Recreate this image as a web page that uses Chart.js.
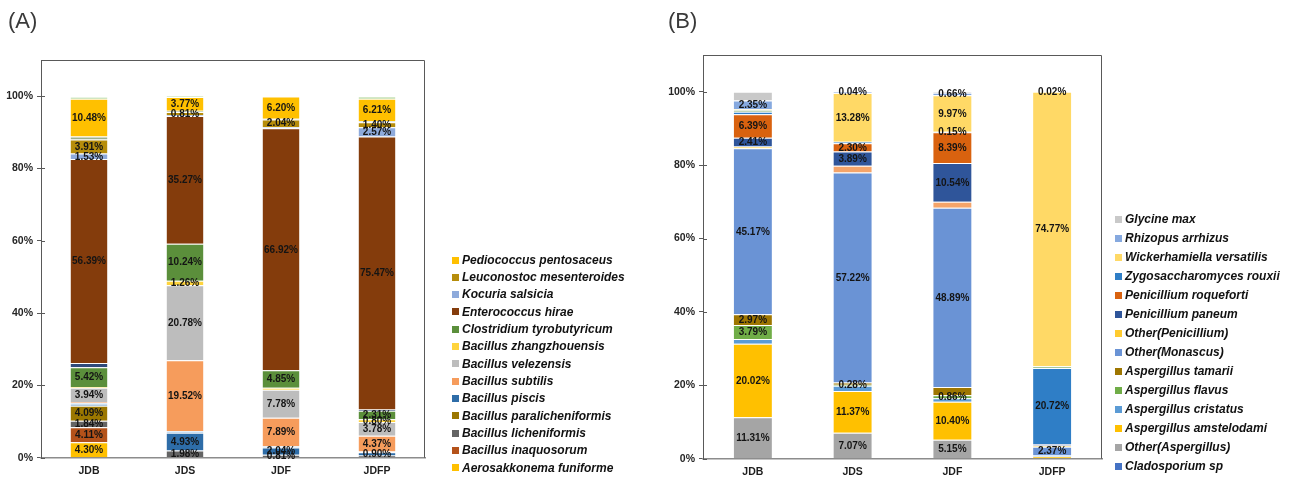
<!DOCTYPE html>
<html>
<head>
<meta charset="utf-8">
<script src="https://cdn.jsdelivr.net/npm/chart.js@4.4.1/dist/chart.umd.min.js"></script>
<style>
  body { margin: 0; background: #fff; }
  #page { position: relative; width: 1289px; height: 477px; overflow: hidden; }
  .panel { position: absolute; top: 0; height: 477px; }
  #panelA { left: 0; width: 645px; }
  #panelB { left: 645px; width: 644px; }
  .tag { position: absolute; top: 10px; font: 22px "Liberation Sans", Arial, sans-serif; line-height: 22px; color: #3a3a3a; }
</style>
</head>
<body>
<div id="page">
  <div class="panel" id="panelA"><canvas id="chartA" width="645" height="477"></canvas></div>
  <div class="panel" id="panelB"><canvas id="chartB" width="644" height="477"></canvas></div>
  <div class="tag" style="left:8px">(A)</div>
  <div class="tag" style="left:668px">(B)</div>
</div>
<script>
// samples on the x axis
const samples = ['JDB', 'JDS', 'JDF', 'JDFP'];

// ---- (A) bacteria, relative abundance %, stacked bottom to top ----
const aerosakkonema   = [4.30, 0, 0, 0];
const bInaquosorum    = [4.11, 0, 0, 0];
const bLicheniformis  = [1.84, 1.98, 0.81, 0.6];
const bParalich       = [4.09, 0, 0, 0];
const bPiscis         = [0.3, 4.93, 2.04, 0.90];
const otherBact1      = [0.5, 0.5, 0.3, 0.2];
const bSubtilis       = [0.3, 19.52, 7.89, 4.37];
const bVelezensis     = [3.94, 20.78, 7.78, 3.78];
const bZhangzhouensis = [0.2, 1.26, 0.5, 0.80];
const clostridium     = [5.42, 10.24, 4.85, 2.31];
const otherBact2      = [1.2, 0, 0, 0.4];
const enterococcus    = [56.39, 35.27, 66.92, 75.47];
const kocuria         = [1.53, 0.3, 0.4, 2.57];
const leuconostoc     = [3.91, 0.81, 2.04, 1.40];
const otherBact3      = [0.8, 0.4, 0.2, 0.3];
const pediococcus     = [10.48, 3.77, 6.20, 6.21];
const otherBact4      = [0.5, 0.24, 0, 0.6];

// which segments carry a value label (1 = labelled)
const shownA = {
  aerosakkonema: [1,0,0,0], bInaquosorum: [1,0,0,0], bLicheniformis: [1,1,1,0],
  bParalich: [1,0,0,0], bPiscis: [0,1,1,1], bSubtilis: [0,1,1,1],
  bVelezensis: [1,1,1,1], bZhangzhouensis: [0,1,0,1], clostridium: [1,1,1,1],
  enterococcus: [1,1,1,1], kocuria: [1,0,0,1], leuconostoc: [1,1,1,1], pediococcus: [1,1,1,1]
};

// ---- (B) fungi, relative abundance %, stacked bottom to top ----
const cladosporium    = [0, 0, 0, 0];
const otherAsperg     = [11.31, 7.07, 5.15, 0];
const aAmstelodami    = [20.02, 11.37, 10.40, 0.6];
const aCristatus      = [1.3, 1.45, 0.9, 0.3];
const aFlavus         = [3.79, 0.28, 0.86, 0];
const aTamarii        = [2.97, 0.6, 2.2, 0];
const otherMonascus   = [45.17, 57.22, 48.89, 2.37];
const otherFungi1     = [0, 1.8, 1.6, 0];
const otherPenicil    = [0.5, 0, 0, 0.3];
const pPaneum         = [2.41, 3.89, 10.54, 0.4];
const pRoqueforti     = [6.39, 2.30, 8.39, 0];
const zygosacch       = [0.7, 0.4, 0.15, 20.72];
const otherFungi2     = [0.5, 0, 0, 0.5];
const wickerhamiella  = [0.2, 13.28, 9.97, 74.77];
const rhizopus        = [2.35, 0.3, 0.66, 0];
const glycine         = [2.4, 0.04, 0.3, 0.02];

const shownB = {
  otherAsperg: [1,1,1,0], aAmstelodami: [1,1,1,0], aFlavus: [1,1,1,0], aTamarii: [1,0,0,0],
  otherMonascus: [1,1,1,1], pPaneum: [1,1,1,0], pRoqueforti: [1,1,1,0], zygosacch: [0,0,1,1],
  wickerhamiella: [0,1,1,1], rhizopus: [1,0,1,0], glycine: [0,1,0,1]
};

const FONT = '"Liberation Sans", Arial, sans-serif';

function series(label, data, color, shown, inLegend) {
  return {
    label: label, data: data, backgroundColor: color,
    borderColor: 'rgba(255,255,255,0.5)', borderWidth: 1,
    shown: shown || null, inLegend: inLegend !== false
  };
}

const datasetsA = [
  series('Aerosakkonema funiforme', aerosakkonema, '#FFC000', shownA.aerosakkonema),
  series('Bacillus inaquosorum', bInaquosorum, '#B4521A', shownA.bInaquosorum),
  series('Bacillus licheniformis', bLicheniformis, '#646464', shownA.bLicheniformis),
  series('Bacillus paralicheniformis', bParalich, '#9B7700', shownA.bParalich),
  series('Bacillus piscis', bPiscis, '#2E6DA8', shownA.bPiscis),
  series('Other bacteria 1', otherBact1, '#9DC3E6', null, false),
  series('Bacillus subtilis', bSubtilis, '#F69C5C', shownA.bSubtilis),
  series('Bacillus velezensis', bVelezensis, '#BDBDBD', shownA.bVelezensis),
  series('Bacillus zhangzhouensis', bZhangzhouensis, '#FFD43D', shownA.bZhangzhouensis),
  series('Clostridium tyrobutyricum', clostridium, '#5B8F3B', shownA.clostridium),
  series('Other bacteria 2', otherBact2, '#2F4A7A', null, false),
  series('Enterococcus hirae', enterococcus, '#843C0C', shownA.enterococcus),
  series('Kocuria salsicia', kocuria, '#8EAADB', shownA.kocuria),
  series('Leuconostoc mesenteroides', leuconostoc, '#B68D0B', shownA.leuconostoc),
  series('Other bacteria 3', otherBact3, '#9DAF8C', null, false),
  series('Pediococcus pentosaceus', pediococcus, '#FFC000', shownA.pediococcus),
  series('Other bacteria 4', otherBact4, '#A9D18E', null, false)
];

const datasetsB = [
  series('Cladosporium sp', cladosporium, '#4472C4'),
  series('Other(Aspergillus)', otherAsperg, '#A5A5A5', shownB.otherAsperg),
  series('Aspergillus amstelodami', aAmstelodami, '#FFC000', shownB.aAmstelodami),
  series('Aspergillus cristatus', aCristatus, '#5B9BD5'),
  series('Aspergillus flavus', aFlavus, '#70AD47', shownB.aFlavus),
  series('Aspergillus tamarii', aTamarii, '#9E7600', shownB.aTamarii),
  series('Other(Monascus)', otherMonascus, '#6A93D5', shownB.otherMonascus),
  series('Other fungi 1', otherFungi1, '#F4A46A', null, false),
  series('Other(Penicillium)', otherPenicil, '#FFCB2F'),
  series('Penicillium paneum', pPaneum, '#2F559A', shownB.pPaneum),
  series('Penicillium roqueforti', pRoqueforti, '#D9620F', shownB.pRoqueforti),
  series('Zygosaccharomyces rouxii', zygosacch, '#2F7EC6', shownB.zygosacch),
  series('Other fungi 2', otherFungi2, '#8DB77A', null, false),
  series('Wickerhamiella versatilis', wickerhamiella, '#FFD966', shownB.wickerhamiella),
  series('Rhizopus arrhizus', rhizopus, '#86A9DF', shownB.rhizopus),
  series('Glycine max', glycine, '#C9C9C9', shownB.glycine)
];

// value labels centred in each labelled segment
const valueLabels = {
  id: 'valueLabels',
  afterDatasetsDraw(chart) {
    const ctx = chart.ctx;
    ctx.save();
    ctx.font = 'bold 10px ' + FONT;
    ctx.fillStyle = '#141414';
    ctx.textAlign = 'center';
    ctx.textBaseline = 'middle';
    chart.data.datasets.forEach((ds, i) => {
      if (!ds.shown) return;
      chart.getDatasetMeta(i).data.forEach((bar, j) => {
        if (!ds.shown[j]) return;
        ctx.fillText(ds.data[j].toFixed(2) + '%', bar.x, (bar.y + bar.base) / 2 + 0.5);
      });
    });
    ctx.restore();
  }
};

// top/right frame of the plot area plus inner half of the y tick marks
const plotFrame = {
  id: 'plotFrame',
  afterDraw(chart) {
    const a = chart.chartArea, ctx = chart.ctx, y = chart.scales.y;
    ctx.save();
    ctx.strokeStyle = '#595959';
    ctx.lineWidth = 1;
    ctx.beginPath();
    ctx.moveTo(a.left, a.top + 0.5);
    ctx.lineTo(a.right - 0.5, a.top + 0.5);
    ctx.lineTo(a.right - 0.5, a.bottom);
    ctx.stroke();
    y.ticks.forEach(t => {
      const py = Math.round(y.getPixelForValue(t.value)) + 0.5;
      ctx.beginPath();
      ctx.moveTo(a.left, py);
      ctx.lineTo(a.left + 4, py);
      ctx.stroke();
    });
    ctx.restore();
  }
};

// legend listed top to bottom in reverse stacking order
const sideLegend = {
  id: 'sideLegend',
  afterDraw(chart, args, opts) {
    const ctx = chart.ctx;
    const items = chart.data.datasets.filter(d => d.inLegend).reverse();
    ctx.save();
    ctx.font = 'italic bold 12px ' + FONT;
    ctx.textBaseline = 'middle';
    ctx.textAlign = 'left';
    items.forEach((d, k) => {
      const cy = opts.y + k * opts.step;
      ctx.fillStyle = d.backgroundColor;
      ctx.fillRect(opts.x, Math.round(cy - 3.5), 7, 7);
      ctx.fillStyle = '#111';
      ctx.fillText(d.label, opts.x + 10, cy + 0.5);
    });
    ctx.restore();
  }
};

function makeChart(id, datasets, box) {
  return new Chart(document.getElementById(id), {
    type: 'bar',
    data: { labels: samples, datasets: datasets },
    plugins: [valueLabels, plotFrame, sideLegend],
    options: {
      responsive: false,
      animation: false,
      layout: { padding: { top: box.top, right: box.right, bottom: 0, left: 0 } },
      datasets: { bar: { categoryPercentage: 1, barPercentage: 0.4 } },
      plugins: {
        legend: { display: false },
        tooltip: { enabled: false },
        sideLegend: box.legend
      },
      scales: {
        x: {
          stacked: true,
          grid: { display: false, drawTicks: false },
          border: { color: '#8C8C8C', width: 1.5 },
          ticks: { color: '#1e1e1e', padding: 7, font: { family: FONT, size: 10.5, weight: 'bold' } },
          afterFit(s) { s.height = box.xHeight; }
        },
        y: {
          stacked: true,
          min: 0,
          max: 110,
          grid: { drawOnChartArea: false, tickLength: 4, color: '#595959' },
          border: { color: '#595959', width: 1 },
          ticks: {
            stepSize: 20,
            padding: 4,
            color: '#262626',
            font: { family: FONT, size: 10.5, weight: 'bold' },
            callback: v => v + '%'
          },
          afterBuildTicks(s) { s.ticks = s.ticks.filter(t => t.value <= 100); },
          afterFit(s) { s.width = box.yWidth; }
        }
      }
    }
  });
}

makeChart('chartA', datasetsA, {
  top: 60, right: 220, yWidth: 41, xHeight: 19.3,
  legend: { x: 452, y: 260, step: 17.33 }
});

makeChart('chartB', datasetsB, {
  top: 55, right: 187, yWidth: 58, xHeight: 18.3,
  legend: { x: 470, y: 219, step: 19 }
});
</script>
</body>
</html>
